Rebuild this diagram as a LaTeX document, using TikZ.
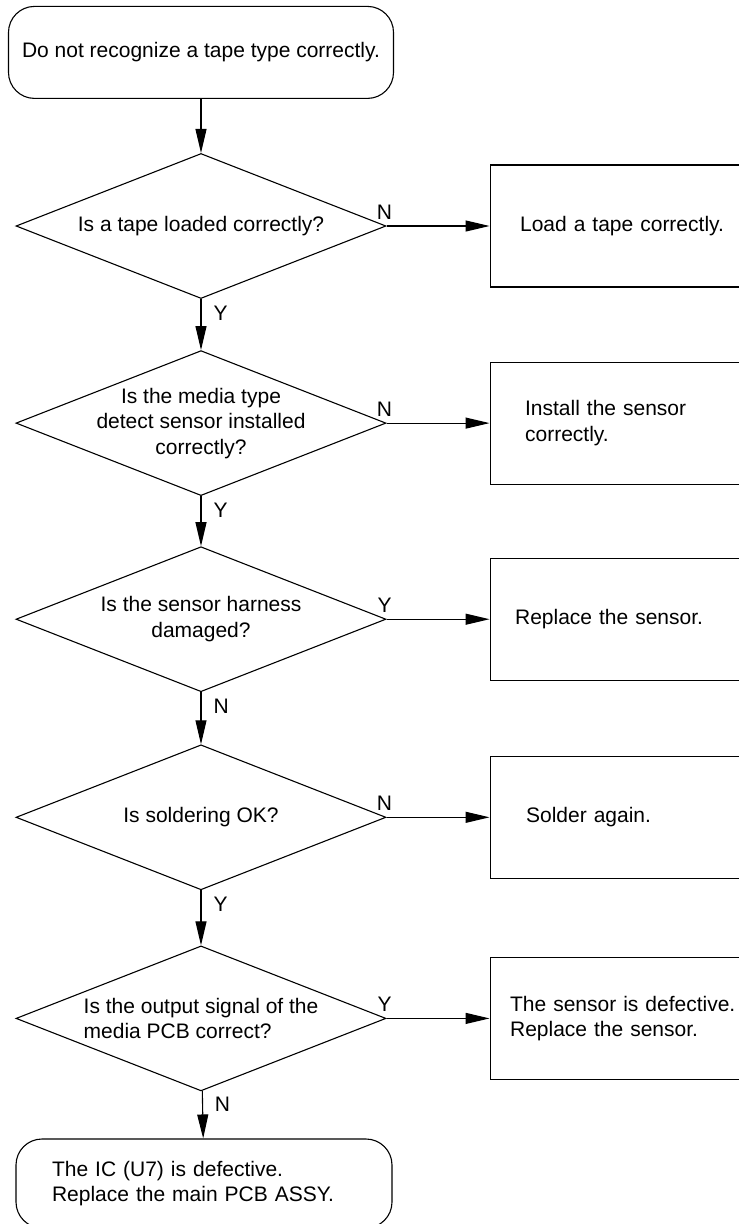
\documentclass[tikz,border=0pt]{standalone}
\usepackage{fontspec}
\setmainfont{Liberation Sans}
\usetikzlibrary{arrows.meta,positioning,shapes.geometric}

\begin{document}
\begin{tikzpicture}[
  every node/.style={font=\fontsize{21}{25.5}\selectfont},
  term/.style={draw, line width=1.1pt, rounded corners=26pt,
               minimum width=385pt, minimum height=92pt, align=center},
  ask/.style={draw, diamond, line width=1.1pt, aspect=2.55, inner sep=-14pt,
              minimum width=370pt, minimum height=145pt, align=center},
  fix/.style={draw, line width=1.1pt, minimum height=122pt,
              text width=230pt, align=left},
  arr/.style={-{Triangle[length=24pt,width=11pt]}, line width=1.1pt},
  yn/.style={inner sep=6pt},
  down/.style={yn, pos=0, below right, xshift=6pt}
]
\useasboundingbox (0,0) rectangle (739pt,-1224pt);

\node[ask] (loaded) at (201pt,-226pt) {Is a tape loaded correctly?};
\node[term, above=54pt of loaded] (start) {Do not recognize a tape type correctly.};
\node[ask, below=51pt of loaded] (installed) {Is the media type\\detect sensor installed\\correctly?};
\node[ask, below=50pt of installed] (harness) {Is the sensor harness\\damaged?};
\node[ask, below=52pt of harness] (solder) {Is soldering OK?};
\node[ask, below=55pt of solder, align=left] (signal) {Is the output signal of the\\media PCB correct?};
\node[term, below=47pt of signal, minimum height=89pt, minimum width=376pt,
      text width=304pt, inner xsep=36pt, align=left, xshift=3pt] (icbad)
  {The IC (U7) is defective.\\Replace the main PCB ASSY.};

% remedies on the right
\node[fix, right=103pt of loaded, inner xsep=30pt] (loadtape) {Load a tape correctly.};
\node[fix, right=103pt of installed, inner xsep=35pt] (install) {Install the sensor\\correctly.};
\node[fix, right=103pt of harness, inner xsep=25pt] (replace) {Replace the sensor.};
\node[fix, right=103pt of solder, inner xsep=36pt] (resolder) {Solder again.};
\node[fix, right=103pt of signal, inner xsep=20pt] (sensorbad)
  {The sensor is defective.\\Replace the sensor.};

\draw[arr] (start) -- (loaded);
\draw[arr] (loaded) -- node[down] {Y} (installed);
\draw[arr] (installed) -- node[down] {Y} (harness);
\draw[arr] (harness) -- node[down] {N} (solder);
\draw[arr] (solder) -- node[down] {Y} (signal);
\draw[arr] (signal) -- node[down] {N} (icbad);

\draw[arr] (loaded) -- node[yn, pos=0, above, xshift=-2pt] {N} (loadtape);
\draw[arr] (installed) -- node[yn, pos=0, above, xshift=-2pt] {N} (install);
\draw[arr] (harness) -- node[yn, pos=0, above, xshift=-2pt] {Y} (replace);
\draw[arr] (solder) -- node[yn, pos=0, above, xshift=-2pt] {N} (resolder);
\draw[arr] (signal) -- node[yn, pos=0, above, xshift=-2pt] {Y} (sensorbad);
\end{tikzpicture}
\end{document}
